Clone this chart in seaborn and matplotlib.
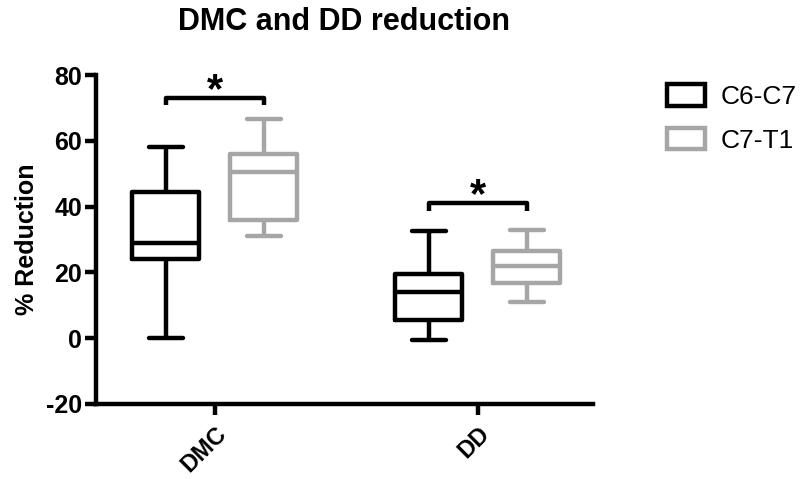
import numpy as np
import pandas as pd
import matplotlib
matplotlib.use("Agg")
import matplotlib.pyplot as plt
from matplotlib.patches import Patch
import seaborn as sns

# ---- data (five-number summaries) ----
categories = ["DMC", "DD"]
series = ["C6-C7", "C7-T1"]
dmc_c6c7 = [0.0, 24.0, 29.0, 44.3, 58.1]
dmc_c7t1 = [31.1, 36.0, 50.4, 56.1, 66.7]
dd_c6c7 = [-0.7, 5.6, 14.1, 19.4, 32.6]
dd_c7t1 = [11.1, 16.8, 22.0, 26.4, 32.8]
sig_labels = ["*", "*"]
sig_heights = [73.0, 41.0]
title = "DMC and DD reduction"
ylabel = "% Reduction"
yticks = [-20, 0, 20, 40, 60, 80]

rows = []
for cat, s, vals in [("DMC", "C6-C7", dmc_c6c7), ("DMC", "C7-T1", dmc_c7t1),
                     ("DD", "C6-C7", dd_c6c7), ("DD", "C7-T1", dd_c7t1)]:
    for v in vals:
        rows.append({"Region": cat, "Segment": s, "Reduction": v})
df = pd.DataFrame(rows)

sns.set_theme(style="white")
plt.rcParams["font.family"] = ["Liberation Sans", "DejaVu Sans"]
plt.rcParams["text.color"] = "black"
plt.rcParams["axes.labelcolor"] = "black"
plt.rcParams["xtick.color"] = "black"
plt.rcParams["ytick.color"] = "black"

colors = ["#000000", "#a6a6a6"]
fig = plt.figure(figsize=(8.04, 4.79), dpi=100)
ax = fig.add_axes([0.1194, 0.1566, 0.618, 0.6868])

width = 0.745
gap = 0.315
sns.boxplot(data=df, x="Region", y="Reduction", hue="Segment", order=categories,
            hue_order=series, palette=colors, fill=False, whis=(0, 100),
            width=width, gap=gap, linewidth=3.2, showfliers=False, ax=ax,
            legend=False)

ax.set_ylim(-20, 80)
ax.set_xlim(-0.452, 1.437)
ax.set_yticks(yticks)
ax.set_yticklabels([str(t) for t in yticks], fontsize=18, fontweight="bold")
ax.set_xticks(range(len(categories)))
ax.set_xticklabels(categories, fontsize=17, fontweight="bold", rotation=45,
                   ha="right", rotation_mode="anchor")
ax.set_xlabel("")
ax.set_ylabel(ylabel, fontsize=18, fontweight="bold", labelpad=5)
for side in ["top", "right"]:
    ax.spines[side].set_visible(False)
for side in ["left", "bottom"]:
    ax.spines[side].set_linewidth(3.2)
    ax.spines[side].set_color("black")
ax.tick_params(axis="both", direction="out", length=8, width=3.2, color="black",
               pad=2, left=True, bottom=True)
ax.tick_params(axis="x", pad=5)

# significance brackets
off = width / 4
for i, (lab, h) in enumerate(zip(sig_labels, sig_heights)):
    x1, x2 = i - off, i + off
    ax.plot([x1, x1, x2, x2], [h - 2.2, h, h, h - 2.2], color="black", lw=3.2,
            solid_capstyle="butt", clip_on=False)
    ax.text(i, h - 1.2, lab, ha="center", va="baseline", fontsize=30,
            fontweight="bold")

fig.suptitle(title, x=0.4275, y=0.985, fontsize=22, fontweight="bold")

handles = [Patch(facecolor="white", edgecolor=c, linewidth=3.2) for c in colors]
ax.legend(handles, series, loc="upper left", bbox_to_anchor=(667 / 804, 1 - 84 / 479),
          bbox_transform=fig.transFigure, frameon=False, fontsize=19,
          handlelength=1.45, handleheight=0.9, handletextpad=0.6,
          labelspacing=0.7, borderpad=0, borderaxespad=0)

fig.savefig("out.png", dpi=100)
